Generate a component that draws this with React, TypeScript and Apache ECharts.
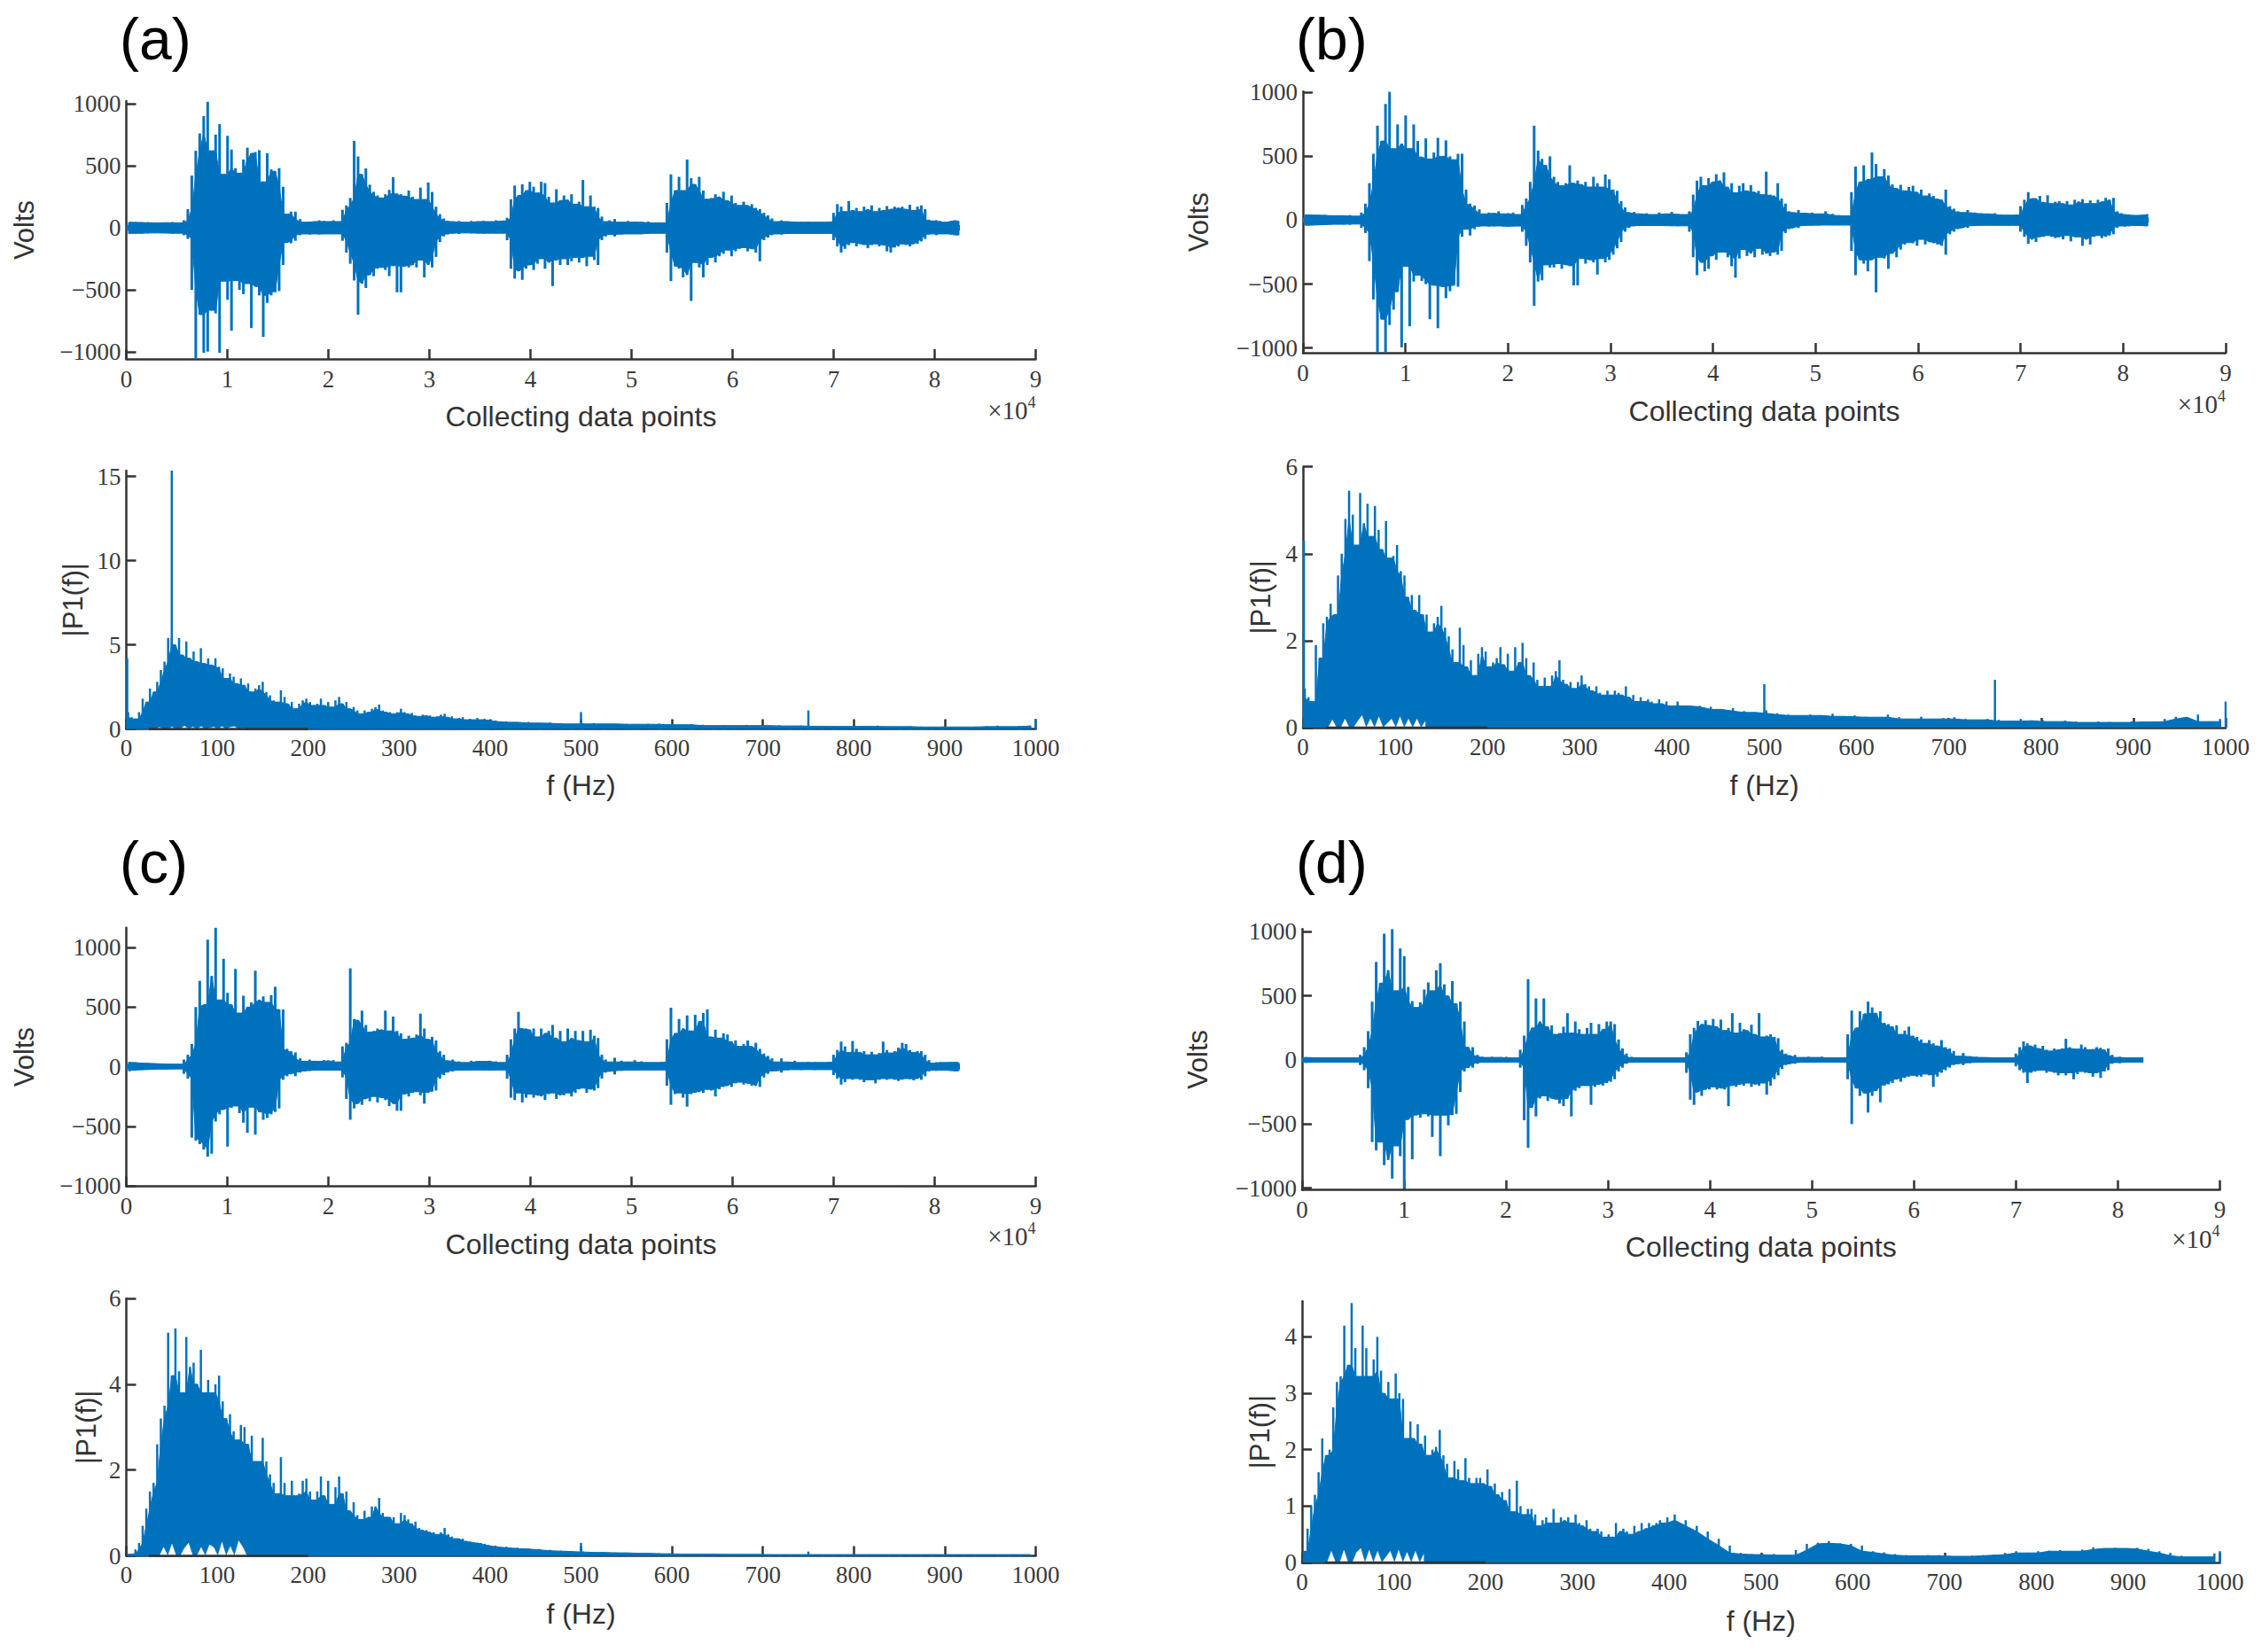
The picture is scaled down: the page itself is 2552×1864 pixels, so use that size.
import React, { useEffect, useRef } from "react";
import * as echarts from "echarts";

// ---------- shared axes values ----------
const timeTicks = [0, 1, 2, 3, 4, 5, 6, 7, 8, 9];
const freqTicks = [0, 100, 200, 300, 400, 500, 600, 700, 800, 900, 1000];
const voltTicks = [-1000, -500, 0, 500, 1000];
const timeEdges = [0, 0.55, 1.65, 2.12, 3.2, 3.75, 4.8, 5.33, 6.45, 6.98, 8.0, 8.25];
const freqEdges = [0, 400, 1000];
const gapEdges = [25, 135];

// ---------- time-domain envelopes (volts), one sub-list per stretch of timeEdges ----------
const voltsAUpper = [
  [45, 46, 43, 45, 40, 41, 42, 46, 40],
  [60, 150, 420, 620, 760, 900, 1015, 620, 750, 835, 430, 740, 630, 480, 440, 550, 645, 600, 610, 625, 370, 600, 470, 455, 480, 330, 110, 130],
  [130, 70, 45, 50, 50, 60, 55, 50, 60, 50],
  [145, 180, 240, 700, 574, 430, 478, 347, 290, 260, 240, 270, 305, 407, 276, 270, 255, 300, 250, 228, 324, 228, 365, 288, 170, 110, 75, 55],
  [50, 55, 45, 55, 50, 55, 50, 60, 55],
  [80, 230, 340, 260, 350, 300, 370, 330, 280, 370, 360, 250, 200, 310, 220, 260, 225, 270, 190, 210, 385, 170, 260, 170, 160, 90, 50, 60],
  [70, 45, 55, 50, 45, 50, 40, 40],
  [200, 430, 300, 410, 300, 550, 400, 350, 410, 300, 230, 240, 270, 250, 290, 220, 260, 200, 180, 210, 180, 190, 160, 150, 120, 100, 75, 50],
  [60, 50, 50, 45, 50, 45, 45, 50],
  [120, 190, 170, 130, 215, 140, 160, 130, 170, 150, 180, 130, 160, 140, 175, 150, 170, 160, 170, 150, 185, 140, 170, 180, 150, 65, 55],
  [60, 55, 45, 50, 55, 60, 55],
];
const voltsALower = [
  [-48, -46, -45, -46, -42, -43, -44, -48, -44],
  [-60, -90, -500, -1100, -700, -1008, -998, -665, -690, -1008, -430, -580, -830, -425, -500, -535, -450, -808, -473, -545, -880, -605, -545, -520, -510, -300, -120, -125],
  [-105, -60, -50, -55, -50, -55, -50, -50, -50, -50],
  [-105, -200, -290, -425, -700, -450, -485, -380, -390, -330, -320, -340, -390, -306, -520, -520, -310, -320, -300, -320, -260, -400, -300, -320, -235, -115, -70, -55],
  [-45, -50, -42, -46, -44, -48, -44, -46, -44],
  [-100, -330, -410, -350, -420, -330, -300, -340, -290, -250, -330, -280, -470, -260, -300, -250, -300, -270, -240, -280, -240, -310, -230, -260, -300, -100, -70, -55],
  [-70, -55, -50, -50, -50, -50, -45, -45],
  [-200, -430, -310, -330, -400, -380, -590, -280, -320, -400, -300, -240, -280, -230, -210, -180, -230, -190, -170, -160, -190, -170, -200, -270, -100, -80, -60, -50],
  [-55, -50, -46, -50, -46, -46, -48, -46],
  [-100, -150, -200, -170, -140, -120, -150, -130, -140, -165, -140, -130, -150, -140, -190, -200, -160, -150, -130, -140, -150, -130, -130, -110, -90, -55, -50],
  [-60, -50, -50, -50, -55, -60, -60],
];
const voltsBUpper = [
  [45, 42, 40, 42, 38, 36, 38, 40, 32],
  [60, 130, 290, 520, 740, 620, 910, 1005, 560, 750, 600, 820, 560, 750, 620, 495, 640, 480, 530, 645, 500, 625, 500, 474, 520, 520, 240, 130],
  [115, 85, 50, 60, 55, 70, 50, 55, 60, 45],
  [120, 170, 300, 740, 545, 480, 430, 500, 340, 300, 270, 290, 430, 290, 310, 280, 300, 260, 340, 290, 260, 358, 320, 240, 230, 150, 100, 60],
  [65, 50, 55, 45, 60, 50, 65, 50, 45],
  [70, 200, 310, 340, 270, 330, 300, 360, 310, 375, 260, 290, 215, 270, 290, 230, 275, 220, 230, 200, 380, 200, 190, 290, 170, 130, 70, 60],
  [80, 55, 60, 50, 70, 50, 40, 35],
  [220, 420, 300, 430, 320, 530, 440, 340, 400, 350, 280, 250, 277, 230, 260, 270, 220, 240, 190, 210, 190, 170, 160, 240, 110, 90, 70, 60],
  [80, 60, 55, 50, 55, 45, 40, 42],
  [110, 160, 220, 170, 170, 190, 140, 195, 130, 145, 150, 130, 150, 120, 160, 145, 165, 130, 155, 130, 160, 145, 175, 160, 175, 70, 55],
  [45, 45, 40, 38, 40, 42, 48],
];
const voltsBLower = [
  [-42, -40, -38, -36, -35, -32, -34, -36, -30],
  [-60, -100, -320, -620, -1040, -775, -1040, -820, -700, -560, -995, -360, -830, -480, -430, -475, -500, -775, -510, -845, -520, -610, -555, -510, -520, -130, -70, -120],
  [-70, -50, -45, -50, -48, -45, -50, -50, -48, -46],
  [-90, -200, -330, -670, -480, -470, -350, -370, -370, -340, -380, -350, -360, -510, -510, -300, -340, -310, -330, -425, -300, -330, -310, -270, -220, -170, -90, -60],
  [-48, -42, -45, -44, -42, -46, -44, -46, -44],
  [-90, -290, -430, -330, -400, -380, -280, -310, -250, -250, -290, -360, -450, -300, -230, -280, -260, -290, -220, -270, -260, -280, -250, -270, -240, -100, -70, -60],
  [-60, -45, -40, -42, -38, -40, -40, -38],
  [-240, -430, -310, -340, -400, -310, -565, -290, -300, -380, -260, -290, -230, -190, -175, -180, -200, -150, -190, -170, -180, -190, -200, -270, -110, -90, -70, -60],
  [-60, -45, -42, -40, -42, -40, -42, -40],
  [-90, -130, -185, -150, -170, -130, -130, -120, -130, -140, -130, -150, -120, -165, -130, -130, -200, -150, -190, -130, -120, -140, -130, -120, -110, -60, -45],
  [-50, -48, -42, -45, -42, -46, -46],
];
const voltsCUpper = [
  [40, 36, 34, 30, 28, 26, 24, 22, 20],
  [60, 100, 190, 500, 720, 520, 1065, 760, 1165, 560, 905, 620, 520, 820, 450, 595, 500, 540, 805, 560, 590, 540, 600, 670, 480, 480, 150, 130],
  [120, 70, 45, 60, 50, 45, 55, 50, 55, 40],
  [170, 200, 825, 400, 390, 470, 350, 290, 300, 320, 310, 470, 300, 420, 300, 280, 230, 260, 240, 270, 445, 320, 230, 250, 220, 130, 100, 50],
  [60, 45, 35, 50, 45, 45, 50, 45, 35],
  [100, 230, 320, 460, 320, 320, 310, 320, 250, 320, 280, 300, 350, 240, 300, 210, 320, 240, 300, 220, 300, 210, 310, 260, 240, 100, 60, 40],
  [75, 50, 40, 55, 45, 35, 35, 40],
  [230, 495, 280, 400, 320, 430, 300, 435, 380, 450, 480, 250, 310, 240, 280, 270, 210, 220, 170, 190, 220, 170, 200, 150, 110, 90, 70, 40],
  [70, 40, 50, 35, 40, 38, 35, 40],
  [100, 140, 210, 170, 120, 215, 150, 120, 130, 100, 125, 100, 115, 210, 140, 115, 130, 160, 200, 190, 140, 120, 130, 130, 100, 55, 30],
  [38, 36, 35, 36, 38, 38, 36],
];
const voltsCLower = [
  [-38, -32, -28, -26, -24, -22, -20, -20, -18],
  [-60, -100, -595, -620, -650, -695, -755, -730, -460, -400, -360, -670, -345, -330, -390, -470, -555, -340, -570, -380, -445, -430, -400, -380, -350, -110, -80, -60],
  [-80, -50, -38, -35, -32, -30, -30, -32, -30, -30],
  [-90, -270, -445, -350, -310, -320, -270, -290, -250, -300, -260, -280, -330, -310, -370, -370, -230, -250, -220, -210, -240, -310, -220, -210, -200, -100, -70, -50],
  [-40, -30, -30, -32, -28, -32, -30, -30, -28],
  [-100, -260, -280, -220, -300, -260, -230, -260, -240, -250, -280, -230, -220, -270, -240, -240, -220, -250, -220, -190, -180, -220, -190, -200, -180, -100, -50, -40],
  [-65, -35, -30, -30, -30, -28, -28, -28],
  [-160, -320, -230, -220, -260, -335, -230, -220, -210, -220, -190, -200, -250, -190, -170, -160, -170, -140, -130, -150, -140, -160, -160, -170, -90, -60, -40, -35],
  [-50, -30, -25, -28, -25, -28, -25, -25],
  [-70, -100, -150, -130, -100, -110, -100, -110, -130, -110, -110, -140, -110, -100, -110, -100, -110, -120, -110, -100, -105, -115, -100, -110, -80, -40, -30],
  [-35, -32, -30, -32, -35, -38, -36],
];
const voltsDUpper = [
  [22, 20, 18, 16, 16, 15, 15, 15, 12],
  [40, 100, 225, 455, 765, 600, 985, 700, 1020, 540, 870, 810, 570, 460, 410, 450, 550, 605, 540, 700, 755, 590, 500, 615, 440, 455, 300, 100],
  [100, 40, 25, 20, 25, 20, 22, 25, 15, 15],
  [80, 190, 630, 250, 480, 300, 480, 260, 270, 200, 210, 260, 365, 210, 300, 240, 200, 250, 290, 200, 280, 240, 300, 300, 280, 160, 90, 50],
  [25, 15, 15, 18, 15, 20, 15, 15, 15],
  [60, 200, 250, 305, 280, 310, 270, 320, 260, 315, 230, 250, 365, 210, 290, 240, 230, 275, 200, 365, 180, 190, 200, 180, 170, 80, 50, 35],
  [40, 20, 25, 20, 25, 20, 15, 15],
  [200, 385, 250, 380, 360, 455, 410, 365, 380, 290, 280, 260, 270, 200, 230, 260, 190, 180, 160, 130, 155, 130, 110, 155, 100, 90, 70, 30],
  [55, 30, 25, 20, 20, 18, 15, 15],
  [50, 100, 145, 130, 110, 120, 90, 110, 80, 70, 90, 80, 90, 165, 100, 90, 85, 120, 100, 80, 85, 100, 95, 80, 90, 40, 20],
  [25, 20, 18, 15, 18, 20, 15],
];
const voltsDLower = [
  [-22, -20, -18, -16, -16, -15, -15, -15, -12],
  [-40, -80, -220, -640, -705, -640, -820, -780, -925, -670, -750, -1000, -465, -775, -430, -450, -420, -440, -600, -430, -750, -430, -510, -430, -420, -250, -90, -60],
  [-60, -30, -20, -18, -18, -20, -18, -15, -15, -15],
  [-60, -470, -685, -370, -440, -300, -280, -320, -300, -310, -340, -360, -300, -440, -240, -220, -200, -200, -350, -210, -190, -200, -180, -170, -150, -90, -60, -30],
  [-22, -15, -15, -15, -15, -18, -15, -15, -15],
  [-100, -310, -350, -250, -280, -230, -230, -210, -230, -220, -230, -360, -200, -210, -190, -200, -180, -210, -190, -200, -180, -270, -200, -150, -120, -70, -40, -30],
  [-30, -20, -18, -18, -18, -15, -15, -15],
  [-150, -500, -220, -280, -260, -410, -280, -240, -330, -200, -190, -180, -150, -170, -140, -130, -120, -130, -130, -110, -120, -210, -130, -100, -80, -60, -40, -30],
  [-40, -25, -20, -18, -18, -15, -15, -15],
  [-50, -80, -100, -180, -100, -90, -80, -80, -100, -90, -100, -120, -100, -120, -100, -150, -110, -90, -100, -100, -130, -100, -140, -90, -80, -30, -20],
  [-25, -20, -18, -15, -18, -20, -15],
];

// ---------- spectra: |P1(f)| envelopes, 0-400 Hz then 400-1000 Hz ----------
const spectrumA = [
  [1.0, .7, .6, 1.0, 1.8, 1.6, 2.4, 2.2, 2.8, 3.5, 4.0, 5.4, 5.4, 5.0, 5.4, 4.4, 5.2, 4.2, 4.6, 4.0,
   4.8, 3.9, 4.2, 3.8, 4.2, 3.7, 3.6, 3.0, 3.3, 3.1, 2.7, 3.0, 2.6, 2.7, 2.2, 2.4, 2.6, 2.8, 2.2, 2.0,
   1.7, 1.6, 2.3, 1.9, 1.5, 1.6, 1.2, 1.5, 1.7, 1.8, 1.6, 1.4, 1.5, 1.8, 1.4, 1.6, 1.3, 1.7, 1.9, 1.5,
   1.6, 1.2, 1.3, 1.1, .9, 1.1, 1.0, 1.2, 1.3, 1.45, 1.1, 1.0, 1.0, .9, 1.0, 1.2, 1.0, .9, .95, .8,
   .75, .85, .8, .8, .7, .75, .85, .9, .7, .75, .6, .65, .7, .55, .6, .55, .65, .55, .6, .55],
  [.5, .45, .4, .42, .35, .38, .34, .3, .32, .35, .3, .3, .3, .28, .3, .32, .27, .25, .28, .25,
   .2, .22, .2, .24, .2, .2, .22, .18, .2, .18, .16, .18, .15, .17, .16, .2, .15, .14, .16, .14,
   .12, .14, .13, .12, .14, .15, .2, .14, .18, .2],
];
const spectrumB = [
  [.9, .7, .6, 1.9, 1.6, 2.4, 2.55, 2.85, 2.6, 3.5, 4.0, 4.8, 5.45, 4.9, 4.2, 5.4, 4.7, 5.15, 4.4, 5.1,
   4.55, 4.1, 4.75, 3.9, 3.95, 4.2, 3.6, 3.5, 3.0, 3.05, 2.7, 3.05, 2.6, 2.6, 2.2, 2.4, 2.55, 2.8, 2.3, 2.1,
   1.8, 1.5, 2.3, 1.9, 1.4, 1.55, 1.2, 1.7, 1.85, 1.75, 1.4, 1.5, 1.6, 1.85, 1.45, 1.7, 1.3, 1.85, 1.5, 1.95,
   1.6, 1.2, 1.5, 1.1, .95, 1.15, .95, 1.2, 1.3, 1.55, 1.1, 1.0, 1.05, .9, 1.05, 1.2, 1.0, .95, .85, .95,
   .8, .75, .85, .75, .85, .8, .75, .95, .7, .75, .6, .7, .6, .65, .6, .55, .65, .55, .6, .5],
  [.6, .5, .5, .48, .42, .45, .38, .35, .4, .33, .3, .28, .3, .28, .32, .26, .28, .25, .24, .3,
   .24, .2, .25, .2, .22, .24, .2, .18, .2, .18, .15, .2, .16, .17, .14, .16, .14, .12, .14, .13,
   .12, .14, .13, .14, .2, .25, .24, .3, .14, .2],
];
const spectrumC = [
  [.04, .05, .15, .3, .7, 1.1, 1.5, 1.7, 2.6, 3.2, 3.5, 5.2, 4.2, 5.3, 4.3, 3.8, 5.1, 4.4, 4.5, 4.0,
   4.8, 3.8, 4.1, 3.8, 4.0, 4.2, 3.6, 3.2, 3.3, 2.9, 2.7, 3.05, 3.0, 2.6, 2.8, 2.2, 2.2, 2.75, 2.2, 1.9,
   1.7, 1.45, 2.3, 1.7, 1.4, 1.75, 1.4, 1.45, 1.75, 1.8, 1.5, 1.3, 1.5, 1.85, 1.4, 1.75, 1.2, 1.6, 1.85, 1.45,
   1.5, 1.05, 1.25, .95, .85, 1.05, .9, 1.15, 1.15, 1.35, 1.0, .9, .9, .9, .75, 1.0, .95, .85, .75, .8,
   .65, .6, .6, .55, .55, .5, .55, .65, .5, .45, .4, .4, .4, .35, .33, .32, .3, .3, .28, .25],
  [.24, .21, .19, .17, .16, .14, .12, .11, .1, .09, .08, .08, .07, .07, .06, .06, .05, .05, .04, .04,
   .04, .04, .035, .035, .035, .035, .03, .03, .03, .03, .03, .03, .03, .03, .03, .03, .03, .03, .03, .03,
   .03, .03, .03, .03, .03, .03, .03, .03, .03, .03],
];
const spectrumD = [
  [.2, .6, 1.0, 1.2, 1.6, 2.2, 1.9, 2.0, 2.75, 3.2, 3.3, 4.2, 3.5, 4.6, 3.8, 3.3, 4.2, 3.8, 3.3, 3.6,
   4.0, 3.4, 3.0, 3.2, 2.9, 3.35, 3.0, 2.9, 2.2, 2.5, 2.2, 2.45, 2.1, 2.25, 1.9, 2.0, 2.05, 2.35, 1.9, 1.75,
   1.5, 1.8, 1.65, 1.45, 1.85, 1.5, 1.4, 1.5, 1.5, 1.4, 1.65, 1.35, 1.4, 1.2, 1.25, 1.1, 1.3, .9, 1.45, 1.0,
   .85, .95, .95, .85, .65, .75, .8, .7, .95, .7, .8, .75, .8, .7, .85, .7, .65, .75, .6, .55,
   .6, .55, .45, .5, .45, .7, .55, .6, .55, .5, .65, .55, .7, .6, .7, .65, .7, .75, .7, .8],
  [.85, .75, .65, .55, .42, .3, .17, .15, .14, .15, .13, .22, .33, .35, .38, .34, .33, .3, .2, .18,
   .15, .13, .12, .13, .13, .12, .11, .12, .13, .14, .17, .2, .17, .2, .21, .22, .2, .23, .27, .25,
   .26, .25, .26, .24, .2, .17, .12, .1, .1, .16],
];

// isolated narrow spectral lines [f, |P1|]
const tonesA = [[1, 4.2], [50, 15.35], [500, 1.0], [750, 1.1], [1000, 0.6]];
const tonesB = [[1, 4.3], [500, 1.0], [750, 1.1], [1000, 0.6]];
const tonesC = [[500, 0.3], [750, 0.1]];
const tonesD = [[1000, 0.2]];

// small uncovered slivers near the floor of each spectrum (25-135 Hz)
const gapA = [[0, 0, .1, 0, 0, .12, 0, 0, .18, 0, .12, 0, .14, 0, .05, .12, 0, .14, 0, .1, .15, 0, .05, 0]];
const gapB = [[0, .18, 0, 0, .2, 0, 0, .15, .28, 0, .2, 0, .25, 0, .1, .2, 0, .25, 0, .2, 0, .2, 0, .15]];
const gapC = [[0, 0, 0, .2, 0, .28, 0, 0, .18, .3, 0, 0, .2, 0, .26, .2, 0, .32, 0, .22, 0, .35, .2, 0]];
const gapD = [[0, .2, 0, 0, .22, 0, 0, .18, .25, 0, .22, 0, .2, 0, .1, .2, 0, .22, 0, .18, 0, .2, 0, .15]];
const floorSpan = [[25, 0], [200, 0]];
const zeroSpan = [[0, 0], [8.25, 0]];

// ---------- layout ----------
const FONT_SERIF = "'Liberation Serif', serif";
const FONT_SANS = "'Liberation Sans', sans-serif";
const INK = "#333333";
const BLUE = "#0072BD";

type Panel = {
  letter: string; letterX: number; letterY: number;
  left: number; right: number;
  tTop: number; tBottom: number; tMin: number; tMax: number;
  tNameGap: number; tYGap: number; expY: number;
  upper: number[][]; lower: number[][];
  fTop: number; fBottom: number; fMax: number; fTicks: number[];
  fNameGap: number; fYGap: number;
  spectrum: number[][]; tones: number[][]; gap: number[][];
};

const panels: Panel[] = [
  { letter: "(a)", letterX: 135, letterY: 44, left: 142.5, right: 1168.5,
    tTop: 114, tBottom: 405, tMin: -1057, tMax: 1021, tNameGap: 49, tYGap: 100, expY: 463,
    upper: voltsAUpper, lower: voltsALower,
    fTop: 531, fBottom: 822.5, fMax: 15.35, fTicks: [0, 5, 10, 15], fNameGap: 47, fYGap: 45,
    spectrum: spectrumA, tones: tonesA, gap: gapA },
  { letter: "(b)", letterX: 1462, letterY: 44, left: 1470, right: 2511,
    tTop: 103.3, tBottom: 398, tMin: -1037, tMax: 1007, tNameGap: 50, tYGap: 102, expY: 456,
    upper: voltsBUpper, lower: voltsBLower,
    fTop: 526.7, fBottom: 821, fMax: 6, fTicks: [0, 2, 4, 6], fNameGap: 49, fYGap: 32,
    spectrum: spectrumB, tones: tonesB, gap: gapB },
  { letter: "(c)", letterX: 135, letterY: 973, left: 142.5, right: 1168.5,
    tTop: 1046.7, tBottom: 1338.5, tMin: -1003, tMax: 1166, tNameGap: 49, tYGap: 100, expY: 1395,
    upper: voltsCUpper, lower: voltsCLower,
    fTop: 1465, fBottom: 1755.5, fMax: 6, fTicks: [0, 2, 4, 6], fNameGap: 49, fYGap: 30,
    spectrum: spectrumC, tones: tonesC, gap: gapC },
  { letter: "(d)", letterX: 1462, letterY: 973, left: 1469, right: 2504.5,
    tTop: 1048.3, tBottom: 1342.7, tMin: -1014, tMax: 1021, tNameGap: 48, tYGap: 102, expY: 1398,
    upper: voltsDUpper, lower: voltsDLower,
    fTop: 1468.3, fBottom: 1763, fMax: 4.63, fTicks: [0, 1, 2, 3, 4], fNameGap: 50, fYGap: 32,
    spectrum: spectrumD, tones: tonesD, gap: gapD },
];

const samples = (segments: number[][], edges: number[]) => {
  const out: number[][] = [];
  segments.forEach((seg, k) => {
    const a = edges[k];
    const b = edges[k + 1];
    seg.forEach((v, i) => out.push([a + ((b - a) * (i + 0.5)) / seg.length, v]));
  });
  return out;
};

// the solid body under the spikes: at each read sample, the smaller magnitude of it and its neighbours
const bodyOf = (pts: number[][]) =>
  pts.map((pt, i) => {
    const mags = [pts[i - 1], pt, pts[i + 1]].filter(Boolean).map((q) => Math.abs(q[1]));
    return [pt[0], Math.sign(pt[1]) * Math.min(...mags)];
  });

const signed = (v: number) => (v < 0 ? "\u2212" + Math.abs(v) : String(v));

function buildOption() {
  const grid: any[] = [];
  const xAxis: any[] = [];
  const yAxis: any[] = [];
  const series: any[] = [];
  const graphic: any[] = [];

  const axisBase = {
    axisLine: { show: true, onZero: false, lineStyle: { color: INK, width: 2.5 } },
    axisTick: { show: true, inside: true, length: 11, lineStyle: { color: INK, width: 2.5 } },
    splitLine: { show: false },
  };
  const tickText = { fontFamily: FONT_SERIF, fontSize: 27, color: "#3a3a3a" };
  const nameText = { fontFamily: FONT_SANS, fontSize: 32, color: "#333333" };
  const yNameText = { fontFamily: FONT_SANS, fontSize: 31, color: "#333333" };
  const plain = (v: number) => String(v);

  const addGrid = (p: Panel, top: number, bottom: number) => {
    grid.push({ left: p.left, top, width: p.right - p.left, height: bottom - top, containLabel: false });
    return grid.length - 1;
  };
  const line = (i: number, data: number[][], extra: any = {}) => ({
    type: "line", xAxisIndex: i, yAxisIndex: i, data, symbol: "none", silent: true,
    lineStyle: { color: BLUE, width: 1 }, areaStyle: { color: BLUE, opacity: 1 }, ...extra,
  });
  const spikes = (i: number, data: number[][], width: number) => ({
    type: "bar", xAxisIndex: i, yAxisIndex: i, data, barWidth: width, silent: true, itemStyle: { color: BLUE },
  });

  panels.forEach((p) => {
    // time domain
    const t = addGrid(p, p.tTop, p.tBottom);
    xAxis.push({
      ...axisBase, type: "value", gridIndex: t, min: 0, max: 9, interval: 1,
      axisLabel: { ...tickText, margin: 9, customValues: timeTicks, formatter: plain },
      axisTick: { ...axisBase.axisTick, customValues: timeTicks },
      name: "Collecting data points", nameLocation: "middle", nameGap: p.tNameGap, nameTextStyle: nameText,
    });
    yAxis.push({
      ...axisBase, type: "value", gridIndex: t, min: p.tMin, max: p.tMax,
      axisLabel: { ...tickText, margin: 6, customValues: voltTicks, formatter: signed },
      axisTick: { ...axisBase.axisTick, customValues: voltTicks },
      name: "Volts", nameLocation: "middle", nameGap: p.tYGap, nameRotate: 90, nameTextStyle: yNameText,
    });
    const up = samples(p.upper, timeEdges);
    const low = samples(p.lower, timeEdges);
    series.push(line(t, bodyOf(up)));
    series.push(line(t, bodyOf(low)));
    series.push(spikes(t, [...up, ...low], 3));
    series.push({ type: "line", xAxisIndex: t, yAxisIndex: t, data: zeroSpan, symbol: "none", silent: true, lineStyle: { color: BLUE, width: 6 } });
    graphic.push({ type: "text", x: p.right - 9, y: p.expY, style: { text: "\u00d710", fontFamily: FONT_SERIF, fontSize: 29, fill: "#3a3a3a", textAlign: "right", textVerticalAlign: "middle" } });
    graphic.push({ type: "text", x: p.right, y: p.expY - 9, style: { text: "4", fontFamily: FONT_SERIF, fontSize: 18, fill: "#3a3a3a", textAlign: "right", textVerticalAlign: "middle" } });
    graphic.push({ type: "text", x: p.letterX, y: p.letterY, style: { text: p.letter, fontFamily: FONT_SANS, fontSize: 66, fill: "#000000", textAlign: "left", textVerticalAlign: "middle" } });

    // frequency domain
    const f = addGrid(p, p.fTop, p.fBottom);
    xAxis.push({
      ...axisBase, type: "value", gridIndex: f, min: 0, max: 1000, interval: 100,
      axisLabel: { ...tickText, margin: 8, customValues: freqTicks, formatter: plain },
      axisTick: { ...axisBase.axisTick, customValues: freqTicks },
      name: "f (Hz)", nameLocation: "middle", nameGap: p.fNameGap, nameTextStyle: nameText,
    });
    yAxis.push({
      ...axisBase, type: "value", gridIndex: f, min: 0, max: p.fMax,
      axisLabel: { ...tickText, margin: 6, customValues: p.fTicks, formatter: plain },
      axisTick: { ...axisBase.axisTick, customValues: p.fTicks },
      name: "|P1(f)|", nameLocation: "middle", nameGap: p.fYGap, nameRotate: 90, nameTextStyle: yNameText,
    });
    const env = samples(p.spectrum, freqEdges);
    series.push(line(f, bodyOf(env)));
    series.push(spikes(f, [...env, ...p.tones], 2.5));
    series.push(line(f, samples(p.gap, gapEdges), { z: 3, lineStyle: { color: "#ffffff", width: 0.3 }, areaStyle: { color: "#ffffff", opacity: 1 } }));
    series.push({ type: "line", xAxisIndex: f, yAxisIndex: f, data: floorSpan, symbol: "none", silent: true, clip: false, z: 4, lineStyle: { color: INK, width: 2.5 } });
  });

  return { animation: false, backgroundColor: "#ffffff", grid, xAxis, yAxis, series, graphic };
}

export default function App() {
  const ref = useRef<HTMLDivElement>(null);
  useEffect(() => {
    document.body.style.margin = "0";
    const chart = echarts.init(ref.current!, undefined, { renderer: "svg" });
    chart.setOption(buildOption() as any);
    return () => chart.dispose();
  }, []);
  return <div ref={ref} style={{ width: 2552, height: 1864 }} />;
}
